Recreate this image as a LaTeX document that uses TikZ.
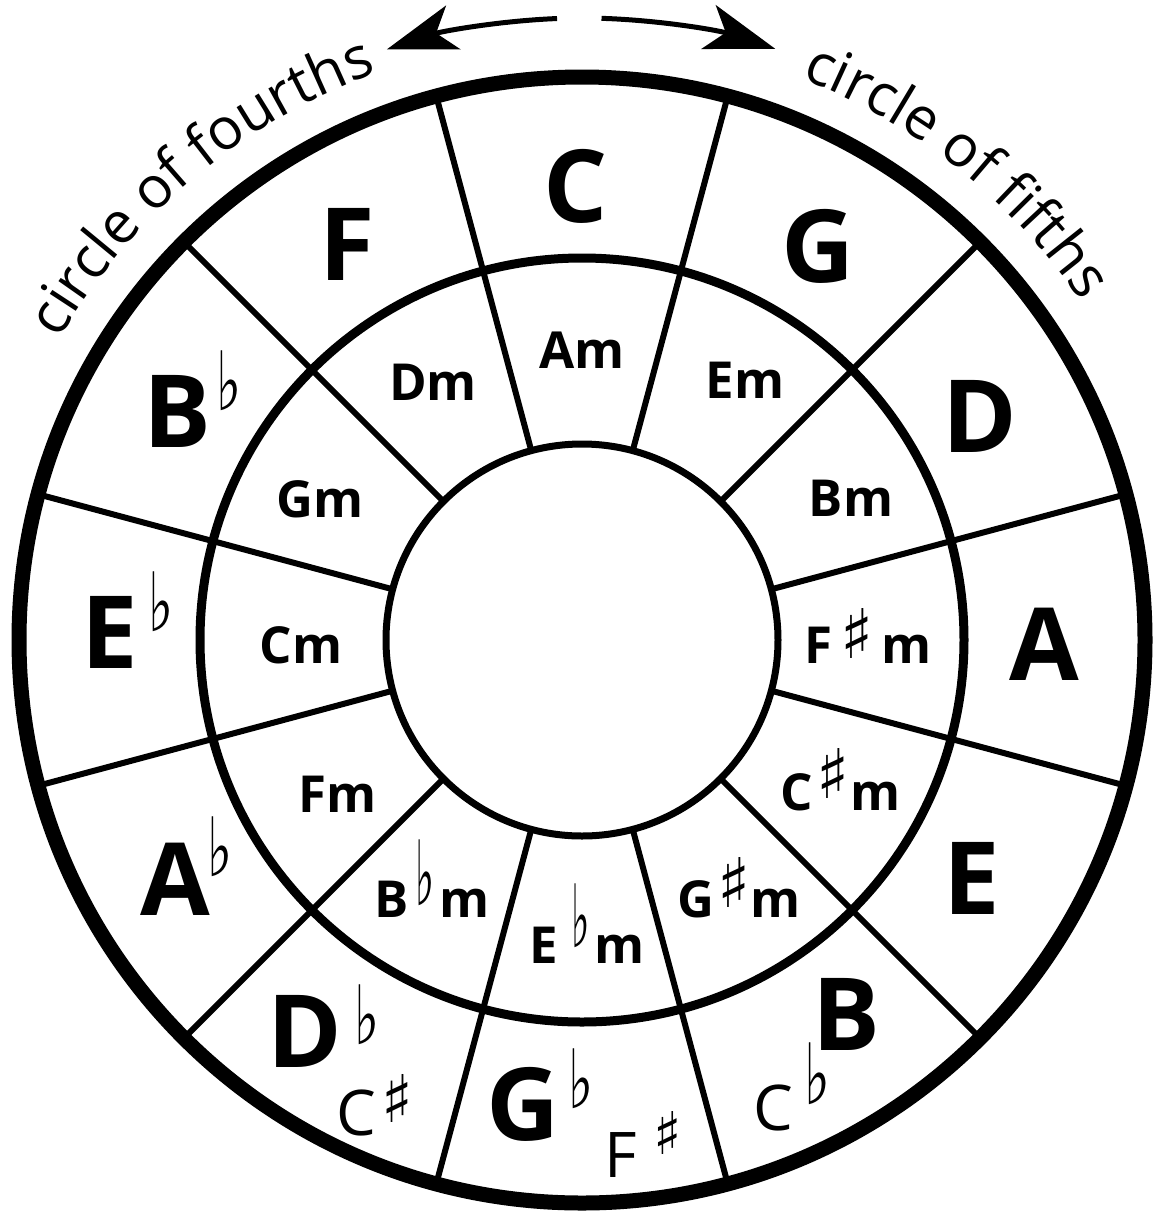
\documentclass[tikz,border=0pt]{standalone}
\usepackage{fontspec}
\usepackage{graphicx}
\setmainfont{Open Sans}
\newfontfamily\symfont{DejaVu Sans}
\usetikzlibrary{arrows.meta,decorations.text,calc}
\newcommand\accfl[3][0.65]{\raisebox{#3}{\scalebox{#1}[1]{\resizebox*{!}{#2}{\raisebox{\depth}{\symfont ♭}}}}}
\newcommand\accsh[3][1]{\raisebox{#3}{\scalebox{#1}[1]{\resizebox*{!}{#2}{\raisebox{\depth}{\symfont ♯}}}}}
\begin{document}
\begin{tikzpicture}[x=1pt,y=-1pt,
  major/.style={font=\fontsize{101}{101}\selectfont\bfseries, inner sep=0pt, anchor=base},
  majorw/.style={major, anchor=base west},
  minor/.style={font=\fontsize{51}{51}\selectfont\bfseries, inner sep=0pt, anchor=base},
  minorw/.style={minor, anchor=base west},
  alt/.style={font=\fontsize{63}{63}\selectfont, inner sep=0pt, anchor=base west},
  outerring/.style={line width=15pt},
  midring/.style={line width=9pt},
  innerring/.style={line width=7pt},
  divider/.style={line width=6pt},
  turnarrow/.style={line width=5pt, -{Stealth[length=70pt, width=46pt, inset=18pt]}},
  arctext/.style={decorate, decoration={text along path, text align=center, text={|\fontsize{58}{58}\selectfont|#1}}}
]
\useasboundingbox (0,0) rectangle (1154,1216);
\coordinate (c) at (582,640);
% rings
\draw[outerring] (c) circle[radius=563];
\draw[midring] (c) circle[radius=382];
\draw[innerring] (c) circle[radius=196];
% dividers
\foreach \a in {15,45,...,345}
  \draw[divider] ($(c)+(\a:196)$) -- ($(c)+(\a:563)$);
% arc texts
\coordinate (t4s) at ($(c)+(-152:603)$);
\coordinate (t5s) at ($(c)+(-72.4:603)$);
\path[arctext={circle of fourths}] (t4s) arc[start angle=-152, end angle=-108, radius=603];
\path[arctext={circle of fifths}] (t5s) arc[start angle=-72.4, end angle=-30.4, radius=603];
% arrows
\coordinate (la) at ($(c)+(-92.3:622)$);
\coordinate (ra) at ($(c)+(-88.2:622)$);
\draw[turnarrow] (la) arc[start angle=-92.3, end angle=-108.3, radius=622];
\draw[turnarrow] (ra) arc[start angle=-88.2, end angle=-71.9, radius=622];
% major keys
\node[major] (C) at (576,222) {C};
\node[major] (G) at (818,282) {G};
\node[major] (D) at (980,452) {D};
\node[major] (A) at (1044,680) {A};
\node[major] (E) at (972,914) {E};
\node[major] (F) at (347,280) {F};
\node[major] (B) at (846,1050) {B};
\node[majorw] (Bb) at (143,447) {B\kern5pt\accfl{60pt}{36pt}};
\node[majorw] (Eb) at (81,668) {E\kern11pt\accfl{60pt}{36pt}};
\node[majorw] (Ab) at (140,915) {A\kern-2pt\accfl{60pt}{38pt}};
\node[majorw] (Db) at (267,1067) {D\kern13pt\accfl{60pt}{22pt}};
\node[majorw] (Gb) at (486,1140) {G\kern9pt\accfl{60pt}{31pt}};
% enharmonic names
\node[alt] (Cs) at (336,1135) {C\kern6pt\accsh{48pt}{13pt}};
\node[alt] (Fs) at (604,1177) {F\kern17pt\accsh{43pt}{23pt}};
\node[alt] (Cb) at (753,1130) {C\kern12pt\accfl{62pt}{25pt}};
% minor keys
\node[minor] (Am) at (582,368) {Am};
\node[minor] (Dm) at (433,400) {Dm};
\node[minor] (Em) at (745,398) {Em};
\node[minor] (Gm) at (320,517) {Gm};
\node[minor] (Bm) at (851,516) {Bm};
\node[minor] (Cm) at (301,663) {Cm};
\node[minor] (Fm) at (338,812) {Fm};
\node[minorw] (Fsm) at (804,663) {F\kern8pt\accsh{50pt}{5pt}\kern8pt m};
\node[minorw] (Csm) at (780,810) {C\kern4pt\accsh{50pt}{12pt}\kern1pt m};
\node[minorw] (Gsm) at (677,917) {G\kern3pt\accsh{50pt}{10pt}\kern0pt m};
\node[minorw] (Bbm) at (374,917) {B\kern7pt\accfl[0.45]{66pt}{11pt}\kern5pt m};
\node[minorw] (Ebm) at (529,963) {E\kern14pt\accfl[0.45]{64pt}{15pt}\kern4pt m};
\end{tikzpicture}
\end{document}
